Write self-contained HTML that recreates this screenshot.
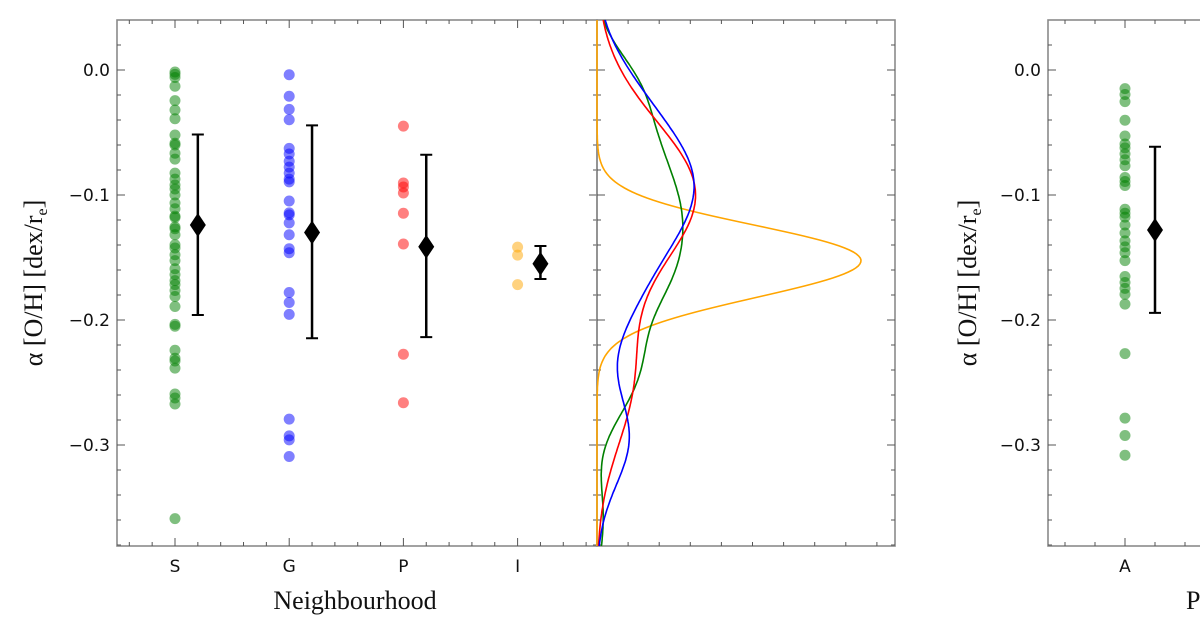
<!DOCTYPE html>
<html><head><meta charset="utf-8"><style>
body{margin:0;background:#fff}
svg{display:block}
.tl{font-family:"DejaVu Sans","Liberation Sans",sans-serif;font-size:17px;fill:#111}
.ax{font-family:"Liberation Serif","DejaVu Serif",serif;font-size:26px;fill:#111}
</style></head><body>
<svg id="chart" width="1200" height="620" viewBox="0 0 1200 620" xmlns="http://www.w3.org/2000/svg">
<rect width="1200" height="620" fill="#fff"/>
<g id="g"></g>
<text class="ax" x="355" y="609" text-anchor="middle">Neighbourhood</text>
<text class="ax" x="1186" y="609">P</text>
<text class="ax" transform="translate(42,283) rotate(-90)" text-anchor="middle">α [O/H] [dex/r<tspan font-size="16" dy="5">e</tspan><tspan dy="-5">]</tspan></text>
<text class="ax" transform="translate(976,283) rotate(-90)" text-anchor="middle">α [O/H] [dex/r<tspan font-size="16" dy="5">e</tspan><tspan dy="-5">]</tspan></text>
</svg>
<script>
const categories = ["S","G","P","I"];
const colors = ["#008000","#0000ff","#ff0000","#ffa500"];
const greenVals = [-.0016,-.0035,-.006,-.013,-.0245,-.032,-.039,-.052,-.0586,-.060,-.0666,-.0713,-.0825,-.0873,-.092,-.0952,-.100,-.1064,-.111,-.1169,-.118,-.1255,-.127,-.1318,-.1398,-.1424,-.1478,-.1525,-.159,-.1637,-.1685,-.1717,-.1764,-.1812,-.1892,-.2035,-.205,-.2242,-.2306,-.2328,-.2385,-.2592,-.2624,-.2672,-.3589];
const blueVals = [-.0038,-.021,-.0315,-.0398,-.0627,-.0672,-.073,-.0777,-.0825,-.0873,-.0895,-.1048,-.1143,-.1159,-.1223,-.1318,-.143,-.1462,-.178,-.186,-.1955,-.2793,-.2927,-.2959,-.3092];
const redVals = [-.0449,-.0904,-.0936,-.0984,-.1146,-.1392,-.2274,-.2662];
const orangeVals = [-.1417,-.1481,-.1717];
const means = [-0.124,-0.130,-0.1414,-0.155];
const errLow = [-0.196,-0.2146,-0.2137,-0.1672];
const errHigh = [-0.0516,-0.0443,-0.0678,-0.1408];
const rightCategories = ["A"];
const rightVals = [-.0149,-.0196,-.0253,-.0402,-.0528,-.0592,-.0623,-.0671,-.0718,-.0766,-.086,-.0892,-.0924,-.1114,-.1146,-.1177,-.124,-.1304,-.1367,-.1415,-.1462,-.1525,-.1652,-.17,-.1747,-.1794,-.1873,-.2269,-.2785,-.2924,-.3082];
const rightMean = [-0.128];
const rightErrLow = [-0.1943];
const rightErrHigh = [-0.0614];
const yTicks = [0.0,-0.1,-0.2,-0.3];
const yTickLabels = ["0.0","\u22120.1","\u22120.2","\u22120.3"];

const NS="http://www.w3.org/2000/svg";
const g=document.getElementById('g');
function mk(t,a,p){const e=document.createElementNS(NS,t);for(const k in a)e.setAttribute(k,a[k]);(p||g).appendChild(e);return e;}
const TOP=20,BOT=546;
const y=v=>70-v*1250;
const xL=v=>175+v*114.2;
const xR=v=>1125+v*150;
const allGroups=[greenVals,blueVals,redVals,orangeVals];

function frame(x0,x1,name,xtickStep,xtickStart,withLabels){
  const f=mk('rect',{x:x0,y:TOP,width:x1-x0,height:BOT-TOP,fill:'none',stroke:'#8a8a8a','stroke-width':1.6});
  
  
  for(let v=-0.38;v<=0.04;v+=0.02){
    const vv=Math.round(v*100)/100;const yy=y(vv);
    if(yy<TOP||yy>BOT)continue;
    const major=Math.abs(vv*10-Math.round(vv*10))<1e-6;const L=major?8:4;
    mk('line',{x1:x0,x2:x0+L,y1:yy,y2:yy,stroke:'#555','stroke-width':1});
    mk('line',{x1:x1,x2:x1-L,y1:yy,y2:yy,stroke:'#555','stroke-width':1});
  }
  if(xtickStep){for(let xx=xtickStart,i=0;xx<x1;xx+=xtickStep,i++){if(xx<=x0)continue;
    const L=withLabels&&(i%5==0)?8:4;
    mk('line',{x1:xx,x2:xx,y1:BOT,y2:BOT-L,stroke:'#555','stroke-width':1});
    mk('line',{x1:xx,x2:xx,y1:TOP,y2:TOP+L,stroke:'#555','stroke-width':1});}}
}
frame(117,597,'left-panel',22.84,xL(0)-22.84*5,true);
frame(597,895,'kde-panel',31.1,597,false);
frame(1048,1260,'right-panel',30,xR(0)-150,true);
yTicks.forEach((v,i)=>{
  const t=mk('text',{x:110,y:y(v)+6,'text-anchor':'end',class:'tl'});t.textContent=yTickLabels[i];
  
  const t2=mk('text',{x:1041,y:y(v)+6,'text-anchor':'end',class:'tl'});t2.textContent=yTickLabels[i];
  
});
categories.forEach((c,i)=>{
  const t=mk('text',{x:xL(i),y:572,'text-anchor':'middle',class:'tl'});t.textContent=c;
  
});
rightCategories.forEach((c,i)=>{
  const t=mk('text',{x:xR(i),y:572,'text-anchor':'middle',class:'tl'});t.textContent=c;
  
});
function errbar(cx,m,lo,hi,name){
  mk('line',{x1:cx,x2:cx,y1:y(lo),y2:y(hi),stroke:'#000','stroke-width':2.5});
  mk('line',{x1:cx-6,x2:cx+6,y1:y(lo),y2:y(lo),stroke:'#000','stroke-width':2});
  mk('line',{x1:cx-6,x2:cx+6,y1:y(hi),y2:y(hi),stroke:'#000','stroke-width':2});
  const d=mk('polygon',{points:`${cx},${y(m)-12} ${cx+8},${y(m)} ${cx},${y(m)+12} ${cx-8},${y(m)}`,fill:'#000'});
  
}
allGroups.forEach((vals,i)=>{
  vals.forEach(v=>{const c=mk('circle',{cx:xL(i),cy:y(v),r:5.5,fill:colors[i],'fill-opacity':0.5});
    });
  errbar(xL(i+0.2),means[i],errLow[i],errHigh[i],'mean-marker-'+categories[i]);
});
rightVals.forEach(v=>{const c=mk('circle',{cx:xR(0),cy:y(v),r:5.5,fill:'#008000','fill-opacity':0.5});
  });
errbar(xR(0.2),rightMean[0],rightErrLow[0],rightErrHigh[0],'mean-marker-A');
// KDE
const bws=[0.027,0.036,0.05,0.025];
const dScale=18.8;
const kdeOrder=[3,0,2,1];
kdeOrder.forEach(i=>{
  const vals=allGroups[i],h=bws[i];let pts=[];
  for(let py=TOP;py<=BOT;py+=2){const v=(70-py)/1250;let s=0;
    vals.forEach(p=>{s+=Math.exp(-0.5*((v-p)/h)**2);});
    s/=vals.length*h*Math.sqrt(2*Math.PI);
    pts.push((597+s*dScale).toFixed(1)+','+py);}
  const pl=mk('polyline',{points:pts.join(' '),fill:'none',stroke:colors[i],'stroke-width':1.6});
  
});
</script>
</body></html>
